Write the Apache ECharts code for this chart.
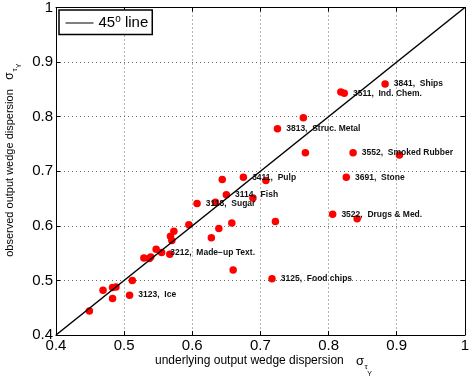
<!DOCTYPE html>
<html><head><meta charset="utf-8">
<script src="https://cdn.jsdelivr.net/npm/echarts@6/dist/echarts.min.js"></script>
<style>html,body{margin:0;padding:0;background:#fff}#c{width:472px;height:383px}</style>
</head><body><div id="c"></div>
<script>
// underlying output wedge dispersion (x)
const xVals = [0.449,0.469,0.483,0.488,0.483,0.512,0.508,0.529,0.537,0.539,0.547,0.555,0.567,0.568,0.573,0.570,0.595,0.607,0.628,0.639,0.658,0.660,0.644,0.675,0.708,0.650,0.689,0.634,0.722,0.806,0.842,0.717,0.883,0.818,0.823,0.763,0.725,0.766,0.836,0.904,0.826];
// observed output wedge dispersion (y)
const yVals = [0.444,0.482,0.487,0.488,0.467,0.500,0.473,0.541,0.540,0.543,0.557,0.551,0.548,0.581,0.590,0.573,0.602,0.641,0.578,0.595,0.605,0.519,0.685,0.689,0.683,0.657,0.651,0.643,0.608,0.621,0.613,0.503,0.860,0.845,0.843,0.798,0.778,0.734,0.734,0.730,0.689];
const pointLabels = ['','','','','','','3123,  Ice','','','','','3212,  Made\u2212up Text.','','','','','','3118,  Sugar','','','','','','3411,  Pulp','','3114,  Fish','','','','3522,  Drugs & Med.','','3125,  Food chips','3841,  Ships','','3511,  Ind. Chem.','','3813,  Struc. Metal','','3552,  Smoked Rubber','','3691,  Stone'];
const diagX = [0.4, 1];
const diagY = [0.4, 1];
const axisMin = 0.4, axisMax = 1, axisStep = 0.1;
const lineName = '45 line';

const F = '"Liberation Sans", Arial, Helvetica, sans-serif';
const chart = echarts.init(document.getElementById('c'), null, {renderer:'canvas'});

const scatterData = xVals.map((x,i)=>({value:[x,yVals[i]], name:pointLabels[i]}));
const lineData = diagX.map((x,i)=>[x,diagY[i]]);

function xAx(pos, main){
  return {type:'value',min:axisMin,max:axisMax,interval:axisStep,position:pos,
    axisLine:{show:true,onZero:false,lineStyle:{color:'#000',width:1}},
    axisTick:{show:true,inside:true,length:4,lineStyle:{color:'#000'}},
    axisLabel:{show:main,fontSize:15,color:'#000',margin:3,fontFamily:F},
    splitLine:{show:main,lineStyle:{type:[1,3],color:'#666',width:1}}};
}
const option = {
  animation:false,
  backgroundColor:'#fff',
  grid:{left:56,right:1,top:6,bottom:48},
  xAxis:[xAx('bottom',true), xAx('top',false)],
  yAxis:[xAx('left',true), xAx('right',false)],
  legend:{
    show:true,left:59,top:10,orient:'horizontal',
    padding:[4,4,4,6],itemWidth:28,itemHeight:14,itemGap:0,
    borderColor:'#000',borderWidth:1.5,borderRadius:0,backgroundColor:'#fff',
    data:[lineName],
    itemStyle:{color:'rgba(0,0,0,0)',borderColor:'rgba(0,0,0,0)',borderWidth:0},
    lineStyle:{color:'#000',width:1},
    formatter:function(){return '45{sup|o} line';},
    textStyle:{fontSize:15,color:'#000',fontFamily:F,
      rich:{sup:{fontSize:10,fontFamily:F,color:'#000',verticalAlign:'bottom',padding:[0,0,8,0]}}}
  },
  series:[
    {type:'scatter',name:'data',data:scatterData,symbolSize:7.5,z:2,
      itemStyle:{color:'#ff0000',opacity:1},
      label:{show:true,position:'right',distance:5,formatter:'{b}',fontSize:8.5,fontWeight:'bold',color:'#111',fontFamily:F}},
    {type:'line',name:lineName,data:lineData,symbol:'none',z:3,
      lineStyle:{color:'#000',width:1.5},itemStyle:{color:'#000'}}
  ],
  graphic:[
    {type:'text',x:155,y:361,style:{text:'underlying output wedge dispersion',font:'12px '+F,fill:'#000',verticalAlign:'middle',align:'left'}},
    {type:'text',x:360,y:361,style:{text:'\u03c3',font:'13px '+F,fill:'#000',verticalAlign:'middle',align:'center'}},
    {type:'text',x:366,y:367,style:{text:'\u03c4',font:'8px '+F,fill:'#000',verticalAlign:'middle',align:'center'}},
    {type:'text',x:369.5,y:374,style:{text:'Y',font:'7px '+F,fill:'#000',verticalAlign:'middle',align:'center'}},
    {type:'text',x:10,y:173,rotation:Math.PI/2,style:{text:'observed output wedge dispersion',font:'11px '+F,fill:'#000',verticalAlign:'middle',align:'center'}},
    {type:'text',x:10,y:76,rotation:Math.PI/2,style:{text:'\u03c3',font:'12px '+F,fill:'#000',verticalAlign:'middle',align:'center'}},
    {type:'text',x:15,y:70,rotation:Math.PI/2,style:{text:'\u03c4',font:'8px '+F,fill:'#000',verticalAlign:'middle',align:'center'}},
    {type:'text',x:19,y:66,rotation:Math.PI/2,style:{text:'Y',font:'7px '+F,fill:'#000',verticalAlign:'middle',align:'center'}}
  ]
};
chart.setOption(option);
</script></body></html>
